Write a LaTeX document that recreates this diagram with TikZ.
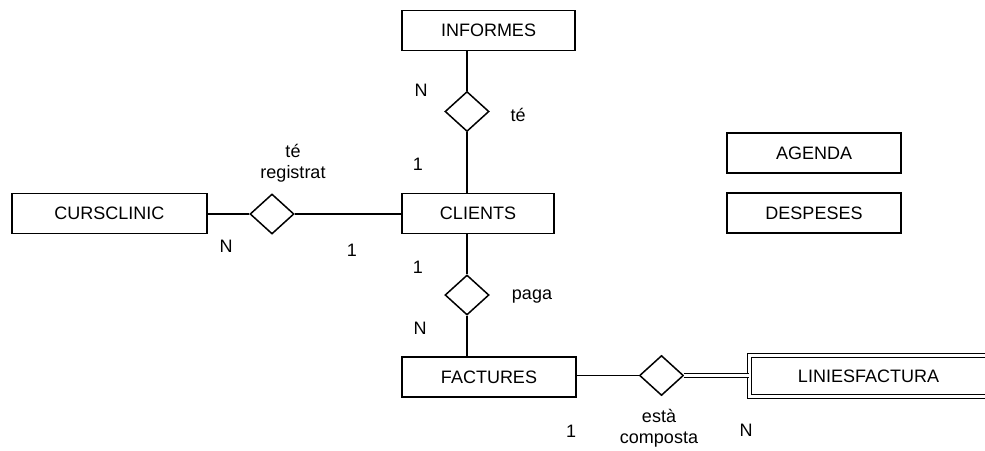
\documentclass[tikz,border=0pt]{standalone}
\usepackage{fontspec}
\setmainfont{Liberation Sans}
\usetikzlibrary{shapes.geometric}
\begin{document}
\begin{tikzpicture}[x=1pt,y=-1pt, line width=1.5pt,
  entity/.style={draw, rectangle, minimum width=#1, minimum height=40pt, inner sep=0pt, font=\fontsize{18}{20}\selectfont},
  rel/.style={draw, diamond, minimum width=44pt, minimum height=40pt, inner sep=0pt},
  lbl/.style={font=\fontsize{18}{21}\selectfont, inner sep=0pt, align=center}]
\useasboundingbox (0,0) rectangle (985,450);
% entities
\node[entity=173pt] (informes) at (488.5,30.5) {INFORMES};
\node[entity=152pt] (clients) at (478,213.5) {CLIENTS};
\node[entity=195pt] (cursclinic) at (109.5,213.5) {CURSCLINIC};
\node[entity=174pt] (agenda) at (814,153) {AGENDA};
\node[entity=174pt] (despeses) at (814,213) {DESPESES};
\node[entity=174pt] (factures) at (489,377) {FACTURES};
\node[entity=238pt, minimum height=41pt, double, line width=1.1pt, double distance=3.4pt] (linies) at (868.5,376) {LINIESFACTURA};
% relationships
\node[rel] (te) at (467,111.5) {};
\node[rel] (tereg) at (272,214) {};
\node[rel] (paga) at (467,295) {};
\node[rel] (composta) at (661.5,375.5) {};
% connectors
\draw (te.north) -- (te.north |- informes.south);
\draw (te.south) -- (te.south |- clients.north);
\draw (paga.north) -- (paga.north |- clients.south);
\draw (paga.south) -- (paga.south |- factures.north);
\draw (tereg.west) -- (tereg.west -| cursclinic.east);
\draw (tereg.east) -- (tereg.east -| clients.west);
\draw (composta.west) -- (composta.west -| factures.east);
\draw[double, line width=1.1pt, double distance=2.4pt] (composta.east) -- (composta.east -| linies.west);
% labels
\node[lbl] (lte) at (518,115) {té};
\node[lbl] (lteN) at (421,90) {N};
\node[lbl] (lte1) at (418,164) {1};
\node[lbl] (ltereg) at (293,163.5) {té\\registrat};
\node[lbl] (ltegN) at (226,246) {N};
\node[lbl] (lteg1) at (352,250) {1};
\node[lbl] (lpaga) at (532,297) {paga};
\node[lbl] (lpaga1) at (418,267) {1};
\node[lbl] (lpagaN) at (420,328) {N};
\node[lbl] (lcomp) at (659,428.5) {està\\composta};
\node[lbl] (lcomp1) at (571,431) {1};
\node[lbl] (lcompN) at (746,430) {N};
\end{tikzpicture}
\end{document}
